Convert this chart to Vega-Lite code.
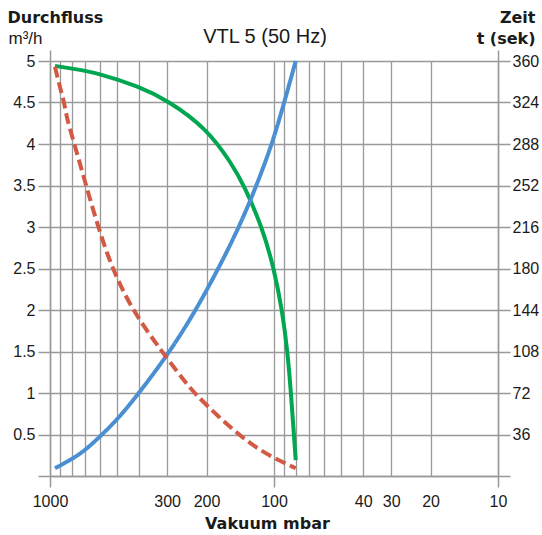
{
  "$schema": "https://vega.github.io/schema/vega-lite/v6.json",
  "width": 448,
  "height": 415,
  "autosize": {"type": "none"},
  "padding": {"left": 50, "top": 61, "right": 44, "bottom": 59},
  "background": "white",
  "title": {
    "text": "VTL 5 (50 Hz)",
    "font": "Liberation Sans",
    "fontSize": 20,
    "fontWeight": "normal",
    "color": "#1a1a1a",
    "anchor": "middle",
    "offset": 0,
    "dx": -9,
    "dy": 38
  },
  "config": {
    "view": {"stroke": null},
    "axis": {
      "domainColor": "#999999",
      "domainWidth": 1.5,
      "tickColor": "#999999",
      "tickWidth": 1.5,
      "gridColor": "#999999",
      "gridWidth": 1.3,
      "labelFont": "Liberation Sans",
      "labelFontSize": 16,
      "labelColor": "#1a1a1a",
      "titleFont": "DejaVu Sans",
      "titleFontWeight": "bold",
      "titleFontSize": 16,
      "titleColor": "#1a1a1a"
    }
  },
  "datasets": {
    "flow": [
      {"v": 950, "q": 4.94},
      {"v": 800, "q": 4.91},
      {"v": 600, "q": 4.85},
      {"v": 400, "q": 4.69},
      {"v": 300, "q": 4.53},
      {"v": 200, "q": 4.19},
      {"v": 155, "q": 3.77},
      {"v": 136, "q": 3.5},
      {"v": 113, "q": 3.0},
      {"v": 100, "q": 2.5},
      {"v": 92, "q": 2.0},
      {"v": 87, "q": 1.5},
      {"v": 84, "q": 1.0},
      {"v": 81.5, "q": 0.5},
      {"v": 80, "q": 0.19}
    ],
    "time": [
      {"curve": "Zeit A", "v": 950, "t": 6.7},
      {"curve": "Zeit A", "v": 800, "t": 14.5},
      {"curve": "Zeit A", "v": 700, "t": 22},
      {"curve": "Zeit A", "v": 600, "t": 34},
      {"curve": "Zeit A", "v": 500, "t": 49},
      {"curve": "Zeit A", "v": 400, "t": 72},
      {"curve": "Zeit A", "v": 291, "t": 108},
      {"curve": "Zeit A", "v": 223, "t": 144},
      {"curve": "Zeit A", "v": 177, "t": 180},
      {"curve": "Zeit A", "v": 143, "t": 216},
      {"curve": "Zeit A", "v": 119.6, "t": 252},
      {"curve": "Zeit A", "v": 102, "t": 288},
      {"curve": "Zeit A", "v": 90, "t": 324},
      {"curve": "Zeit A", "v": 80, "t": 360},
      {"curve": "Zeit B", "v": 950, "t": 355},
      {"curve": "Zeit B", "v": 900, "t": 336},
      {"curve": "Zeit B", "v": 864, "t": 324},
      {"curve": "Zeit B", "v": 841, "t": 310},
      {"curve": "Zeit B", "v": 778, "t": 288},
      {"curve": "Zeit B", "v": 690, "t": 252},
      {"curve": "Zeit B", "v": 610, "t": 216},
      {"curve": "Zeit B", "v": 528, "t": 180},
      {"curve": "Zeit B", "v": 430, "t": 144},
      {"curve": "Zeit B", "v": 317, "t": 108},
      {"curve": "Zeit B", "v": 250, "t": 82},
      {"curve": "Zeit B", "v": 227, "t": 72},
      {"curve": "Zeit B", "v": 177, "t": 51.4},
      {"curve": "Zeit B", "v": 141, "t": 34.5},
      {"curve": "Zeit B", "v": 116, "t": 22.6},
      {"curve": "Zeit B", "v": 96, "t": 13.9},
      {"curve": "Zeit B", "v": 80, "t": 6.7}
    ]
  },
  "layer": [
    {
      "data": {"name": "flow"},
      "mark": {"type": "line", "color": "#00a650", "strokeWidth": 4, "interpolate": "basis", "strokeCap": "butt"},
      "encoding": {
        "x": {
          "field": "v",
          "type": "quantitative",
          "scale": {"type": "log", "domain": [10, 1000], "reverse": true, "nice": false},
          "axis": {
            "orient": "bottom",
            "values": [1000, 900, 800, 700, 600, 500, 400, 300, 200, 100, 90, 80, 70, 60, 50, 40, 30, 20, 10],
            "grid": true,
            "tickSize": 11,
            "tickOpacity": {"condition": {"test": "datum.value == 1000 || datum.value == 100 || datum.value == 10", "value": 1}, "value": 0},
            "labelExpr": "indexof([1000,300,200,100,40,30,20,10], datum.value) >= 0 ? format(datum.value, 'd') : ''",
            "labelPadding": 6,
            "labelFlush": false,
            "labelOverlap": false,
            "labelBaseline": "top",
            "title": "Vakuum mbar",
            "titleAlign": "center",
            "titleBaseline": "alphabetic",
            "titleX": 217,
            "titleY": 52
          }
        },
        "y": {
          "field": "q",
          "type": "quantitative",
          "scale": {"domain": [0, 5], "nice": false},
          "axis": {
            "orient": "left",
            "values": [0, 0.5, 1, 1.5, 2, 2.5, 3, 3.5, 4, 4.5, 5],
            "grid": true,
            "tickSize": 12,
            "labelPadding": 3,
            "labelFlush": false,
            "labelOverlap": false,
            "labelExpr": "datum.value == 0 ? '' : format(datum.value, '.1~f')",
            "title": "Durchfluss",
            "titleAngle": 0,
            "titleAlign": "left",
            "titleBaseline": "alphabetic",
            "titleX": -43,
            "titleY": -39
          }
        }
      }
    },
    {
      "data": {"name": "time"},
      "mark": {"type": "line", "strokeWidth": 4, "interpolate": "basis", "strokeCap": "butt"},
      "encoding": {
        "x": {
          "field": "v",
          "type": "quantitative",
          "scale": {"type": "log", "domain": [10, 1000], "reverse": true, "nice": false},
          "axis": {
            "orient": "top",
            "values": [1000, 10],
            "grid": false,
            "domain": false,
            "labels": false,
            "tickSize": 11,
            "title": "m³/h",
            "titleFont": "Liberation Sans",
            "titleFontWeight": "normal",
            "titleFontSize": 17,
            "titleAngle": 0,
            "titleAlign": "left",
            "titleBaseline": "alphabetic",
            "titleX": -42,
            "titleY": -18
          }
        },
        "y": {
          "field": "t",
          "type": "quantitative",
          "scale": {"domain": [0, 360], "nice": false},
          "axis": {
            "orient": "right",
            "values": [0, 36, 72, 108, 144, 180, 216, 252, 288, 324, 360],
            "grid": false,
            "tickSize": 12,
            "labelPadding": 2,
            "labelFlush": false,
            "labelOverlap": false,
            "labelExpr": "datum.value == 0 ? '' : format(datum.value, 'd')",
            "title": ["Zeit", "t (sek)"],
            "titleAngle": 0,
            "titleAlign": "right",
            "titleBaseline": "alphabetic",
            "titleLineHeight": 21,
            "titleX": 37,
            "titleY": -39
          }
        },
        "color": {
          "field": "curve",
          "type": "nominal",
          "scale": {"domain": ["Zeit A", "Zeit B"], "range": ["#4a8fd2", "#d25a44"]},
          "legend": null
        },
        "strokeDash": {
          "field": "curve",
          "type": "nominal",
          "scale": {"domain": ["Zeit A", "Zeit B"], "range": [[1, 0], [11, 5]]},
          "legend": null
        }
      }
    }
  ],
  "resolve": {"scale": {"y": "independent"}, "axis": {"x": "independent"}}
}
